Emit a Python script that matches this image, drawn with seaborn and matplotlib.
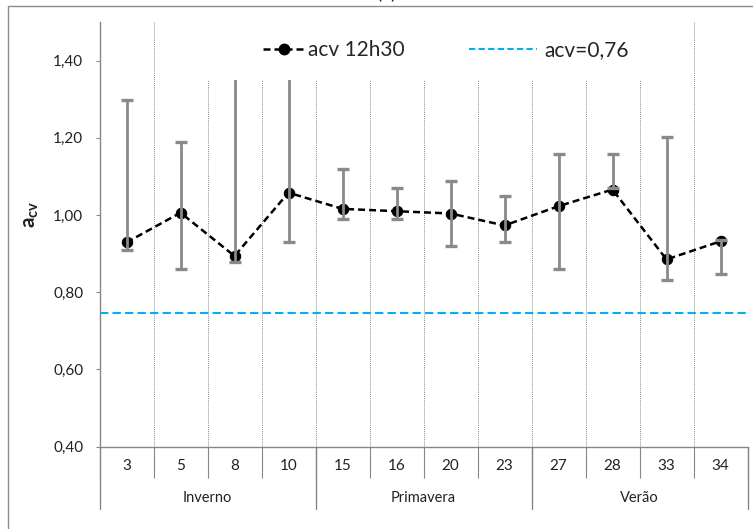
import numpy as np
import pandas as pd
import matplotlib
matplotlib.use("Agg")
import matplotlib.pyplot as plt
import matplotlib.transforms as mtransforms
from matplotlib.patches import Rectangle
from matplotlib.lines import Line2D
import seaborn as sns

# ---- data ----
categories = ['3', '5', '8', '10', '15', '16', '20', '23', '27', '28', '33', '34']
acv_mean = [0.929, 1.006, 0.894, 1.058, 1.016, 1.010, 1.004, 0.973, 1.023, 1.066, 0.885, 0.932]
acv_low = [0.910, 0.859, 0.879, 0.929, 0.991, 0.991, 0.921, 0.929, 0.859, 1.070, 0.831, 0.848]
acv_high = [1.298, 1.190, 1.450, 1.450, 1.120, 1.071, 1.089, 1.050, 1.159, 1.159, 1.201, 0.936]
seasons = ['Inverno', 'Primavera', 'Verão']
season_sizes = [4, 4, 4]
threshold = 0.746
yticks = [0.40, 0.60, 0.80, 1.00, 1.20, 1.40]
ytick_labels = ['0,40', '0,60', '0,80', '1,00', '1,20', '1,40']

sns.set_theme(style='white')
plt.rcParams['font.family'] = ['Lato', 'DejaVu Sans']
plt.rcParams['mathtext.fontset'] = 'custom'
plt.rcParams['mathtext.rm'] = 'Lato'
plt.rcParams['mathtext.bf'] = 'Lato:bold'

W, H = 753, 529
fig = plt.figure(figsize=(W / 100, H / 100), dpi=100)
ax_l, ax_r, ax_t, ax_b = 99.5, 747.5, 22.0, 446.7
ax = fig.add_axes([ax_l / W, 1 - ax_b / H, (ax_r - ax_l) / W, (ax_b - ax_t) / H])

GREY = '#868686'
df = pd.DataFrame({'pos': np.arange(len(categories)), 'cat': categories,
                   'mean': acv_mean, 'low': acv_low, 'high': acv_high})

# main dashed line with markers
sns.lineplot(data=df, x='pos', y='mean', ax=ax, color='black', linewidth=1.8,
             linestyle=(0, (2.8, 1.6)), marker='o', markersize=7.5,
             markeredgecolor='black', markerfacecolor='black', zorder=3)

# error bars (grey, drawn above markers)
ax.vlines(df['pos'], df['low'], df['high'], color='#8a8a8a', linewidth=2.0, zorder=4)
ax.plot(df['pos'], df['low'], linestyle='none', marker='_', markersize=8.5,
        markeredgewidth=2.4, color='#8a8a8a', zorder=4)
ax.plot(df['pos'], df['high'], linestyle='none', marker='_', markersize=8.5,
        markeredgewidth=2.4, color='#8a8a8a', zorder=4)

# threshold line
ax.axhline(threshold, color='#00B0F0', linewidth=1.5, linestyle=(0, (4, 2)), zorder=2)

# axes limits / ticks
n = len(categories)
ax.set_xlim(-0.5, n - 0.5)
ax.set_ylim(0.40, 1.50)
ax.set_yticks(yticks)
ax.set_yticklabels(ytick_labels)
ax.set_xticks(np.arange(n))
ax.set_xticklabels(categories)
ax.set_xticks(np.arange(-0.5, n, 1.0), minor=True)
ax.set_xlabel('')
ax.tick_params(axis='y', which='major', left=True, length=3.2, width=0.8, color=GREY,
               pad=8.5, labelsize=11, labelcolor='#222222')
ax.tick_params(axis='x', which='major', bottom=True, length=0, pad=9,
               labelsize=11, labelcolor='#222222')
ax.tick_params(axis='x', which='minor', bottom=True, length=22.5, width=0.8,
               color=GREY, direction='out')
ax.grid(False)
ax.grid(which='minor', axis='x', color='#8f8f8f', linestyle=(0, (1, 1)), linewidth=0.7, zorder=0)

for side in ['top', 'right']:
    ax.spines[side].set_visible(False)
for side in ['left', 'bottom']:
    ax.spines[side].set_color(GREY)
    ax.spines[side].set_linewidth(1.0)

# season group separators and labels
trans = mtransforms.blended_transform_factory(ax.transData, ax.transAxes)
grp_depth = -(509 - ax_b) / (ax_b - ax_t)
lab_y = -(498 - ax_b) / (ax_b - ax_t)
edges = np.concatenate([[0], np.cumsum(season_sizes)]) - 0.5
for e in edges:
    ax.add_line(Line2D([e, e], [0, grp_depth], transform=trans, color=GREY,
                       linewidth=1.0, clip_on=False))
for i, s in enumerate(seasons):
    ax.text((edges[i] + edges[i + 1]) / 2, lab_y, s, transform=trans, ha='center',
            va='center', fontsize=10.5, color='#222222')

# y label
ax.set_ylabel(r'$\mathbf{a}_{\mathbf{cv}}$', fontsize=15, color='#222222')
ax.yaxis.set_label_coords(-0.090, 0.548)

# white legend area
ax.add_patch(Rectangle(((170 - ax_l) / (ax_r - ax_l), (ax_b - 80) / (ax_b - ax_t)),
                       (680 - 170) / (ax_r - ax_l), (80 - ax_t) / (ax_b - ax_t),
                       transform=ax.transAxes, facecolor='white', edgecolor='none', zorder=5))

h1 = Line2D([], [], color='black', linewidth=1.8, linestyle=(0, (2.8, 1.6)), marker='o',
            markersize=7.5)
h2 = Line2D([], [], color='#00B0F0', linewidth=1.5, linestyle=(0, (3, 1.6)))
ly = (ax_b - 50) / (ax_b - ax_t)
leg1 = ax.legend([h1], ['acv 12h30'], loc='center', bbox_to_anchor=((334 - ax_l) / (ax_r - ax_l), ly),
                 frameon=False, fontsize=15, handlelength=1.95, handletextpad=0.2,
                 borderpad=0, borderaxespad=0)
leg1.set_zorder(6)
ax.add_artist(leg1)
leg2 = ax.legend([h2], ['acv=0,76'], loc='center', bbox_to_anchor=((549 - ax_l) / (ax_r - ax_l), ly),
                 frameon=False, fontsize=15, handlelength=3.3, handletextpad=0.35,
                 borderpad=0, borderaxespad=0)
leg2.set_zorder(6)

# figure border and clipped title
fig.patches.append(Rectangle((8 / W, -0.05), 1.1, 1 - 6 / H + 0.05, transform=fig.transFigure,
                             facecolor='none', edgecolor='#8c8c8c', linewidth=1.0))
fig.text(386 / W, 1 - 1 / H, '(a)', ha='center', va='bottom', fontsize=14, color='#222222')

fig.savefig('out.png', dpi=100)
